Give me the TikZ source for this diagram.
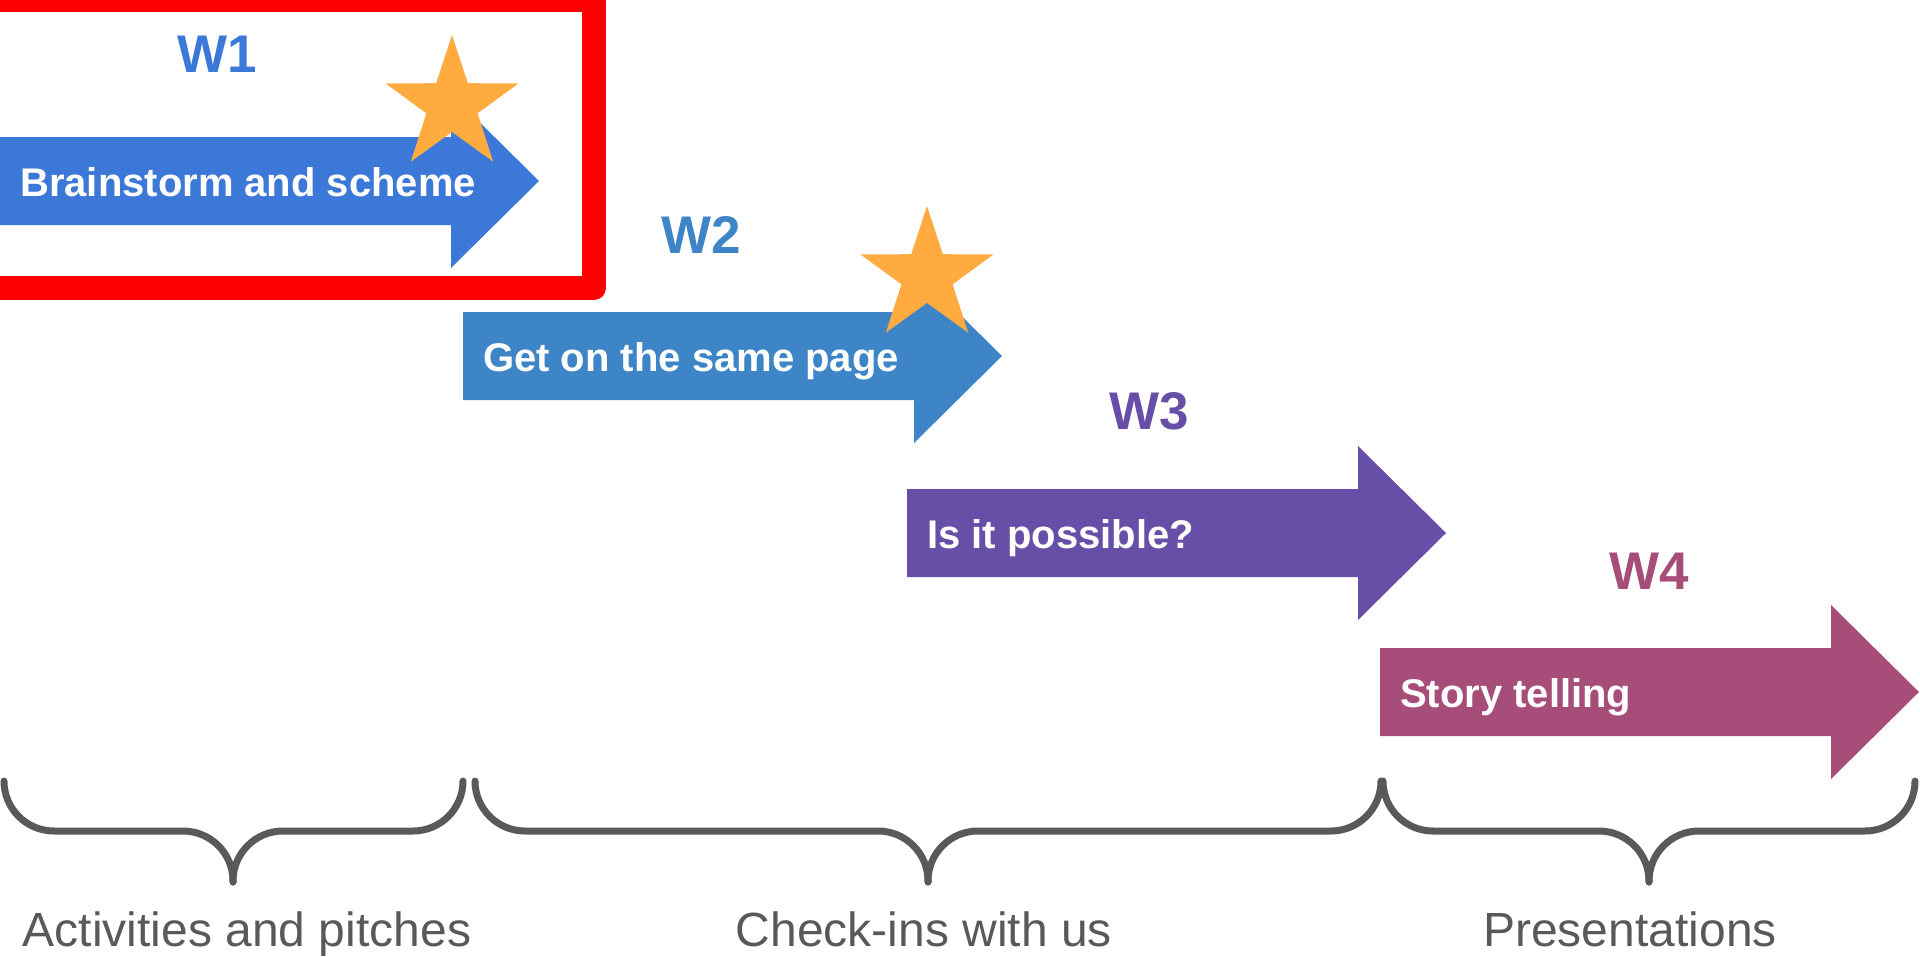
\documentclass[tikz,border=0pt]{standalone}
\usepackage{fontspec}
\setmainfont{Liberation Sans}
\usetikzlibrary{shapes.geometric}

\definecolor{wkone}{HTML}{3C78D8}
\definecolor{wktwo}{HTML}{3D85C6}
\definecolor{wkthree}{HTML}{674EA7}
\definecolor{wkfour}{HTML}{A64D79}
\definecolor{staror}{HTML}{FFAB40}
\definecolor{bracegr}{HTML}{595959}

\begin{document}
\begin{tikzpicture}[x=1pt, y=-1pt,
	week/.style={font=\fontsize{53}{60}\selectfont\bfseries, inner sep=0pt},
	task/.style={font=\fontsize{40}{48}\selectfont\bfseries, text=white, anchor=base west, inner sep=0pt},
	phase/.style={font=\fontsize{48}{56}\selectfont, text=bracegr, anchor=base, inner sep=0pt},
	goal/.style={star, star points=5, star point ratio=2.6, minimum size=140pt, inner sep=0pt, fill=staror},
	curly/.style={draw=bracegr, line width=7pt, rounded corners=50pt, line cap=round},
	weekarrow/.pic={\fill (0,-44) -- (451,-44) -- (451,-87) -- (539,0) -- (451,87) -- (451,44) -- (0,44) -- cycle;}
]
\useasboundingbox (0,0) rectangle (1920,956);
\clip (0,0) rectangle (1920,956);

% highlight frame round week one
\draw[red, line width=24pt, line join=round] (-40,0) -- (594,0) -- (594,288) -- (-40,288);

% the four weeks
\pic[wkone] at (0,181) {weekarrow};
\pic[wktwo] at (463,356) {weekarrow};
\pic[wkthree] at (907,533) {weekarrow};
\pic[wkfour] at (1380,692) {weekarrow};

\node[task] (t1) at (20,196) {Brainstorm and scheme};
\node[task] (t2) at (483,371) {Get on the same page};
\node[task] (t3) at (927,548) {Is it possible?};
\node[task] (t4) at (1400,707) {Story telling};

\node[week, text=wkone] (w1) at (217,54) {W1};
\node[week, text=wktwo] (w2) at (701,235) {W2};
\node[week, text=wkthree] (w3) at (1149,411) {W3};
\node[week, text=wkfour] (w4) at (1649,571) {W4};

\node[goal] (s1) at (452,105) {};
\node[goal] (s2) at (927,276) {};

% braces
\draw[curly] (4,781) -- (4,831) -- (233,831) -- (233,882);
\draw[curly] (463,781) -- (463,831) -- (233,831) -- (233,882);
\draw[curly] (475,781) -- (475,831) -- (928,831) -- (928,882);
\draw[curly] (1381,781) -- (1381,831) -- (928,831) -- (928,882);
\draw[curly] (1383,781) -- (1383,831) -- (1649,831) -- (1649,882);
\draw[curly] (1915,781) -- (1915,831) -- (1649,831) -- (1649,882);

\node[phase] (p1) at (247,946) {Activities and pitches};
\node[phase] (p2) at (924,946) {Check-ins with us};
\node[phase] (p3) at (1630,946) {Presentations};
\end{tikzpicture}
\end{document}
